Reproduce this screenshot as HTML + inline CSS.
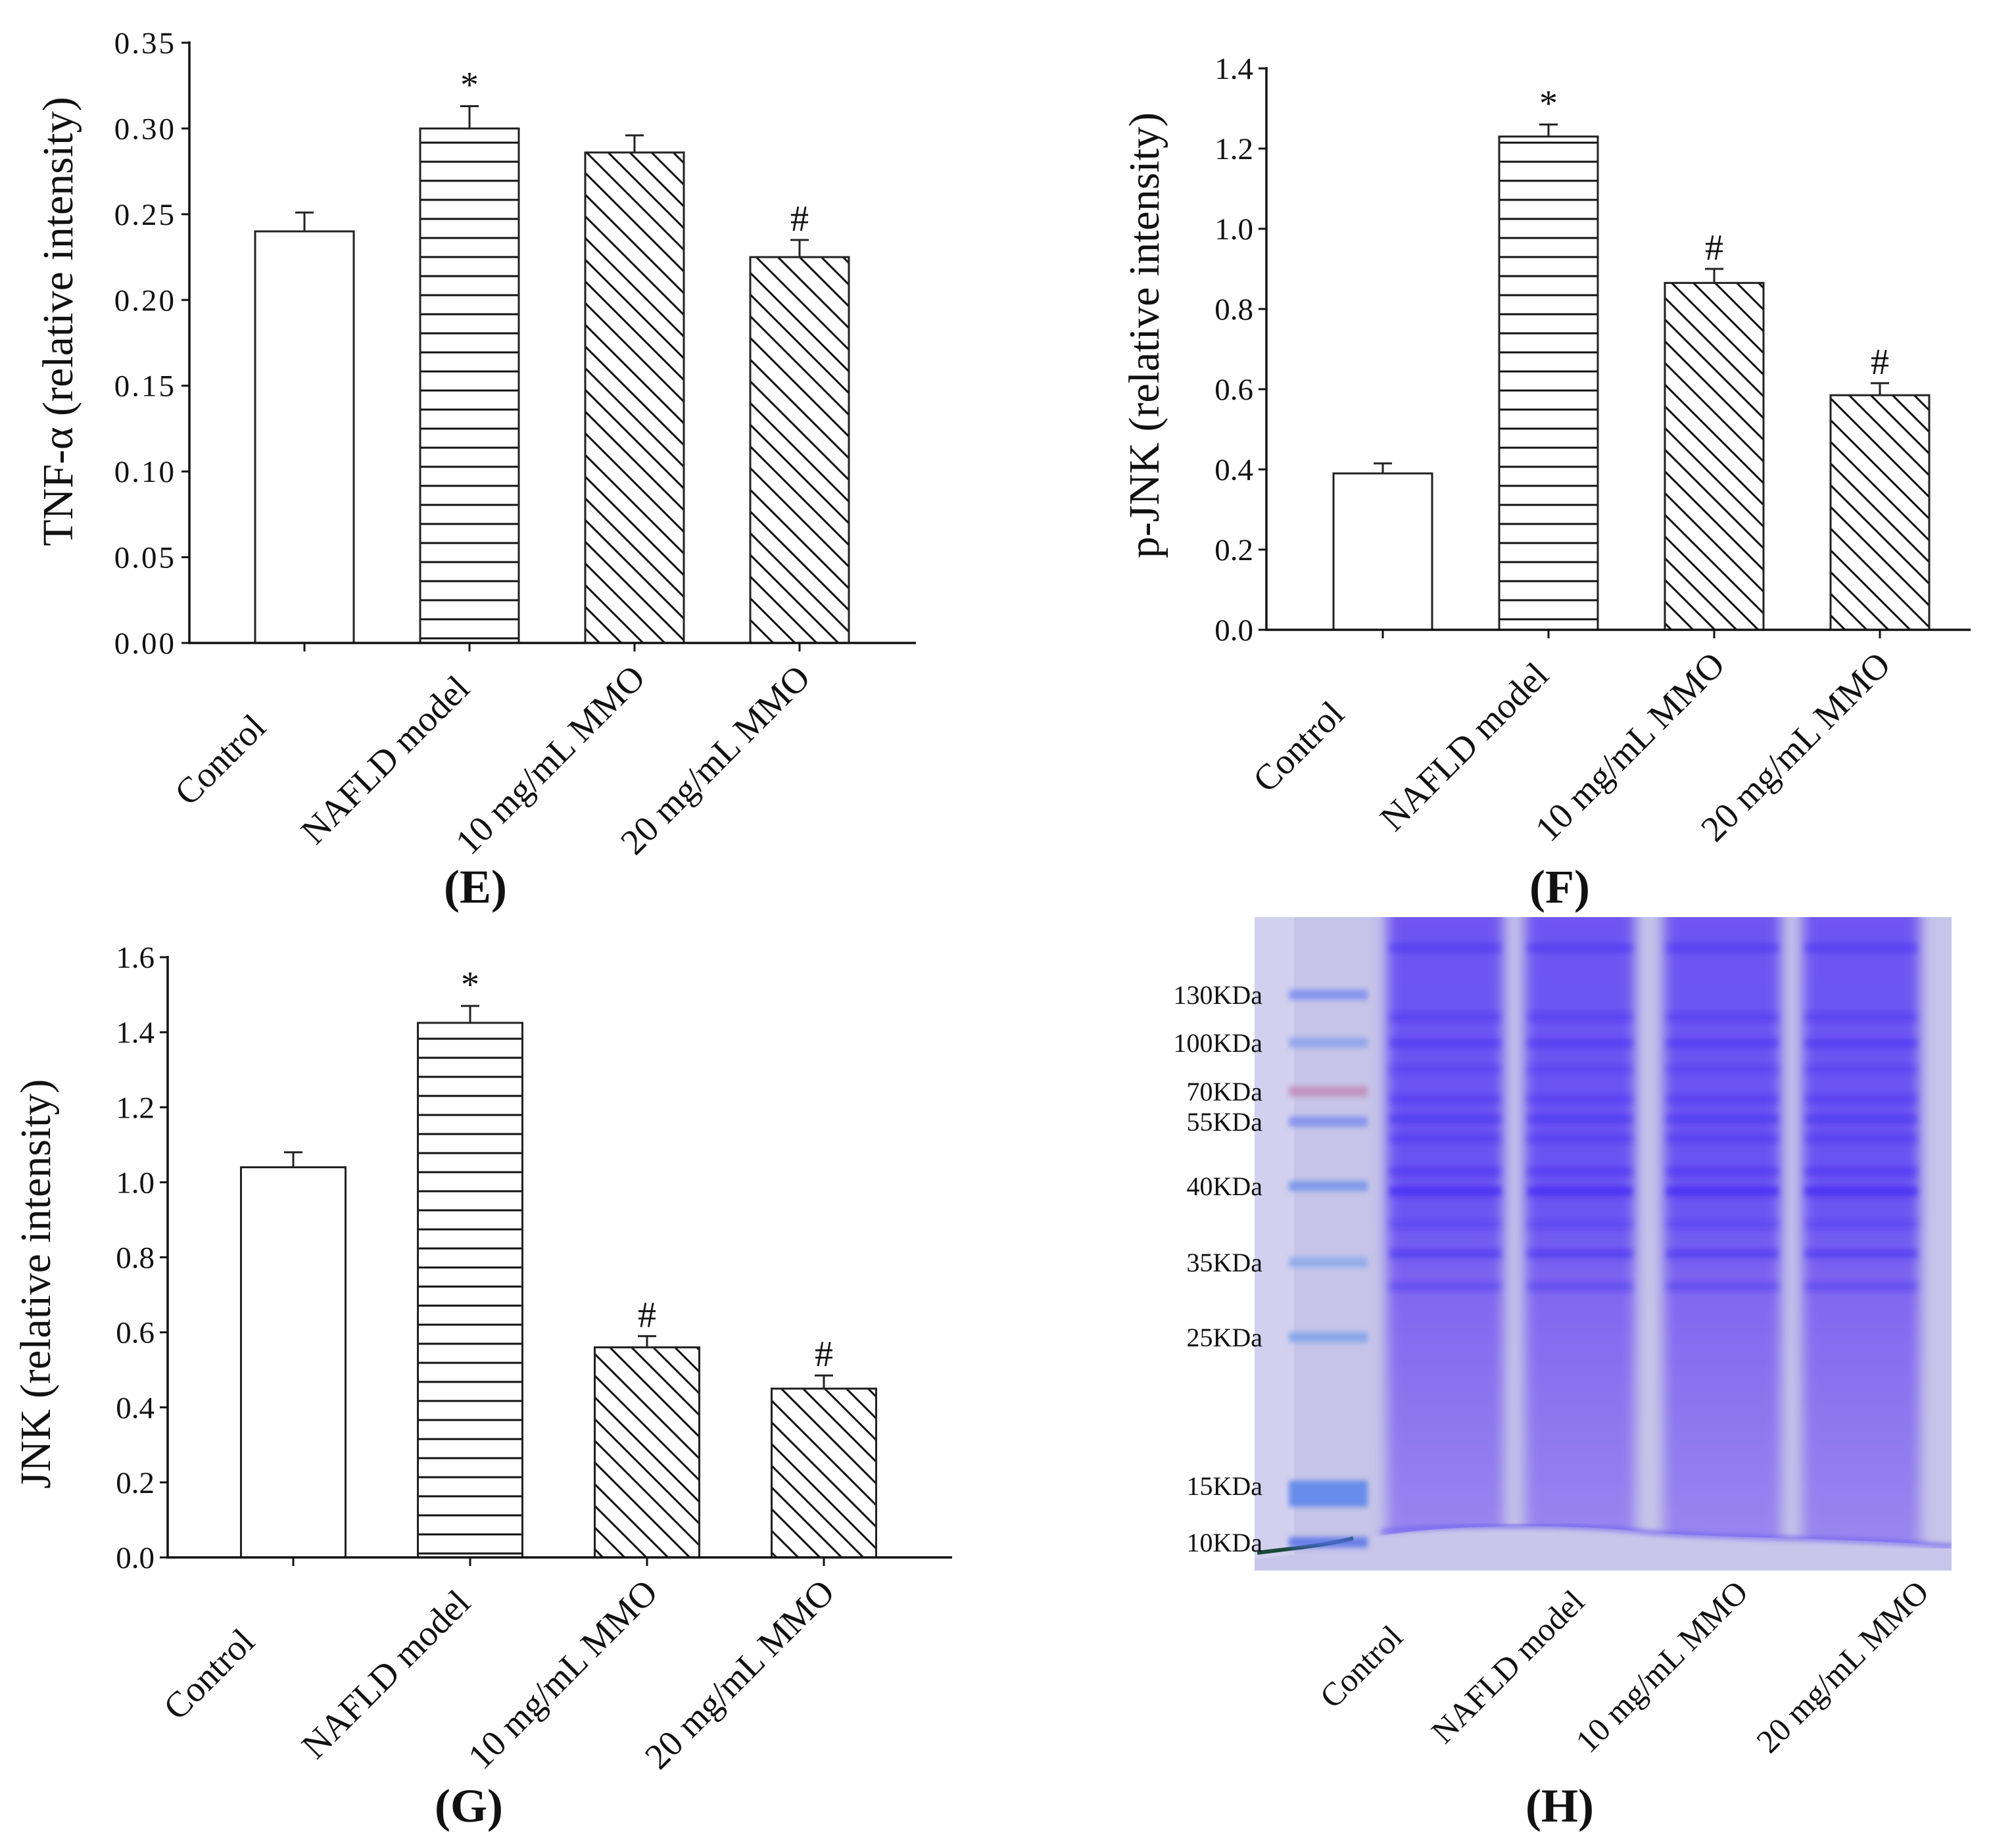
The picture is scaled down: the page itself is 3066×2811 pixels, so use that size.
<!DOCTYPE html>
<html><head><meta charset="utf-8">
<style>
html,body{margin:0;padding:0;background:#fff;}
svg{display:block;font-family:"Liberation Serif","Times New Roman",serif;}
</style></head>
<body>
<svg id="fig" width="3066" height="2811" viewBox="0 0 3066 2811" xmlns="http://www.w3.org/2000/svg" font-family="Liberation Serif, Times New Roman, serif">
<defs>
<pattern id="hatchH" patternUnits="userSpaceOnUse" width="40" height="29">
<line x1="0" y1="14" x2="40" y2="14" stroke="#111" stroke-width="3"/>
</pattern>
<pattern id="hatchD" patternUnits="userSpaceOnUse" width="33" height="33">
<path d="M0,0 L33,33 M-6,27 L6,39 M27,-6 L39,6" stroke="#111" stroke-width="3"/>
</pattern>
<filter id="blur4"><feGaussianBlur stdDeviation="4"/></filter>
<filter id="blur10"><feGaussianBlur stdDeviation="10"/></filter>
<clipPath id="gelClip"><rect x="1908" y="1395" width="1060" height="994"/></clipPath>
<linearGradient id="laneG" x1="0" y1="0" x2="0" y2="1">
<stop offset="0" stop-color="#6f55f2"/>
<stop offset="0.45" stop-color="#6a52f3"/>
<stop offset="0.6" stop-color="#8068f0"/>
<stop offset="1" stop-color="#9a88ef"/>
</linearGradient>
</defs>
<g id="charts"></g>
<g id="gel"></g>
</svg>
<script>
const NS="http://www.w3.org/2000/svg";
// ---- data ----
const categories=["Control","NAFLD model","10  mg/mL MMO","20 mg/mL MMO"];
const tnfValues=[0.240,0.300,0.286,0.225];
const tnfErrors=[0.011,0.013,0.010,0.010];
const tnfMarks=["","*","","#"];
const tnfTicks=["0.00","0.05","0.10","0.15","0.20","0.25","0.30","0.35"];
const pjnkValues=[0.39,1.23,0.865,0.585];
const pjnkErrors=[0.025,0.03,0.035,0.03];
const pjnkMarks=["","*","#","#"];
const pjnkTicks=["0.0","0.2","0.4","0.6","0.8","1.0","1.2","1.4"];
const jnkValues=[1.04,1.425,0.56,0.45];
const jnkErrors=[0.04,0.045,0.03,0.035];
const jnkMarks=["","*","#","#"];
const jnkTicks=["0.0","0.2","0.4","0.6","0.8","1.0","1.2","1.4","1.6"];
const markerLabels=["130KDa","100KDa","70KDa","55KDa","40KDa","35KDa","25KDa","15KDa","10KDa"];
const fills=["#fff","url(#hatchH)","url(#hatchD)","url(#hatchD)"];

function el(tag,attrs,parent,text){const e=document.createElementNS(NS,tag);for(const k in attrs)e.setAttribute(k,attrs[k]);if(text!==undefined)e.textContent=text;parent.appendChild(e);return e;}

function drawChart(root,name,ax,values,errors,marks,ticks,title,panel){
  const g=el("g",{},root);
  
  
  const ymax=parseFloat(ticks[ticks.length-1]);
  const y=v=>ax.y0-(v/ymax)*(ax.y0-ax.y1);
  const x=i=>ax.c0+i*ax.step;
  values.forEach((v,i)=>{
    const r=el("rect",{x:x(i)-ax.bw/2,y:y(v),width:ax.bw,height:ax.y0-y(v),fill:fills[i],stroke:"#222","stroke-width":3},g);
    
    
    const top=y(v+errors[i]);
    const eb=el("path",{d:`M${x(i)},${y(v)} V${top} M${x(i)-14},${top} H${x(i)+14}`,stroke:"#222","stroke-width":3,fill:"none"},g);
    
    
    if(marks[i]){
      const t=el("text",{x:x(i),y:top-14,"text-anchor":"middle","font-size":56,fill:"#111"},g,marks[i]);
      
      
    }
  });
  const axl=el("path",{d:`M${ax.x0},${ax.y1-2} V${ax.y0} H${ax.xe}`,stroke:"#111","stroke-width":3.5,fill:"none"},g);
  
  
  ticks.forEach(tk=>{
    const ty=y(parseFloat(tk));
    el("line",{x1:ax.x0-12,y1:ty,x2:ax.x0,y2:ty,stroke:"#111","stroke-width":3},g);
    const t=el("text",{x:ax.x0-20,y:ty+16,"text-anchor":"end","font-size":47,fill:"#111","letter-spacing":ax.ls},g,tk);
    
    
  });
  categories.forEach((c,i)=>{
    el("line",{x1:x(i),y1:ax.y0,x2:x(i),y2:ax.y0+13,stroke:"#111","stroke-width":3},g);
    const cx=x(i)-128, cy=ax.y0+178;
    const t=el("text",{x:cx,y:cy+18,"text-anchor":"middle","font-size":55,fill:"#111",transform:`rotate(-45 ${cx} ${cy})`},g,c);
    
    
  });
  const tt=el("text",{x:ax.tx,y:ax.ty,"text-anchor":"middle","font-size":66,fill:"#111",transform:`rotate(-90 ${ax.tx} ${ax.ty})`},g,title);
  
  
  const pl=el("text",{x:ax.px,y:ax.py+24,"text-anchor":"middle","font-size":72,"font-weight":"bold",fill:"#111"},g,panel);
  
  
}

const charts=document.getElementById("charts");
drawChart(charts,"tnf-alpha-chart",{x0:288,xe:1393,y0:978,y1:65,c0:463,step:251,bw:150,tx:110,ty:489,px:723,py:1349,ls:3},tnfValues,tnfErrors,tnfMarks,tnfTicks,"TNF-α (relative intensity)","(E)");
drawChart(charts,"p-jnk-chart",{x0:1926,xe:2997,y0:958,y1:104,c0:2103,step:252,bw:150,tx:1762,ty:510,px:2372,py:1349,ls:0},pjnkValues,pjnkErrors,pjnkMarks,pjnkTicks,"p-JNK (relative intensity)","(F)");
drawChart(charts,"jnk-chart",{x0:255,xe:1448,y0:2369,y1:1456,c0:446,step:269,bw:159,tx:76,ty:1953,px:713,py:2747,ls:0},jnkValues,jnkErrors,jnkMarks,jnkTicks,"JNK (relative intensity)","(G)");

// ---- gel (image panel) ----
const gelOuter=document.getElementById("gel");
const gel=el("g",{"clip-path":"url(#gelClip)"},gelOuter);
const GX=1908,GY=1395,GW=1060,GH=994;
el("rect",{x:GX,y:GY,width:GW,height:GH,fill:"#c6c4e8"},gel);
el("rect",{x:GX,y:GY,width:60,height:GH,fill:"#d2d0ee"},gel);
const lanes=[[2109,2287],[2319,2487],[2530,2709],[2741,2920]];
const lg=el("g",{filter:"url(#blur10)"},gel);
lanes.forEach((l,i)=>{
  const r=el("rect",{x:l[0],y:GY-20,width:l[1]-l[0],height:GH,fill:"url(#laneG)"},lg);
  
  
});
const bandY=[40,145,185,225,270,300,330,380,410,460,505,555];
const bandO=[0.4,0.3,0.4,0.25,0.3,0.4,0.3,0.35,0.6,0.25,0.45,0.3];
const bg=el("g",{filter:"url(#blur4)"},gel);
lanes.forEach(l=>{bandY.forEach((b,j)=>{el("rect",{x:l[0]+4,y:GY+b,width:l[1]-l[0]-8,height:14,fill:"#3a22f2",opacity:bandO[j]},bg);});});
el("path",{d:`M${GX},2372 C2000,2362 2060,2348 2100,2336 C2200,2318 2400,2318 2500,2330 C2600,2340 2800,2338 2970,2352 L2970,${GY+GH} L${GX},${GY+GH} Z`,fill:"#c8c6ea"},gel);
el("path",{d:`M2100,2330 C2200,2318 2400,2318 2500,2330 C2600,2340 2800,2338 2970,2352`,stroke:"#6e5ef0","stroke-width":5,fill:"none",filter:"url(#blur4)"},gel);
el("path",{d:`M1912,2362 C1960,2356 2020,2350 2058,2340`,stroke:"#1a4a3a","stroke-width":6,fill:"none"},gel);
const mY=[1513,1586,1660,1706,1804,1920,2034,2260,2346];
const mC=["#7b8cf0","#8aa0ec","#c08ab8","#7b8cf0","#6f90ea","#8aa8ec","#7aa0ea","#4f7eea","#4f6ee8"];
const mg=el("g",{filter:"url(#blur4)"},gel);
mY.forEach((yy,i)=>{el("rect",{x:1960,y:yy-8,width:120,height:(i==7?40:16),fill:mC[i],opacity:0.8},mg);});
markerLabels.forEach((m,i)=>{
  const t=el("text",{x:1920,y:mY[i]+14,"text-anchor":"end","font-size":40,fill:"#111"},gelOuter,m);
  
  
});
const gelLabelX=[2070,2293,2527,2802];
categories.forEach((c,i)=>{
  const cx=gelLabelX[i],cy=2535;
  const t=el("text",{x:cx,y:cy+17,"text-anchor":"middle","font-size":50,fill:"#111",transform:`rotate(-45 ${cx} ${cy})`},gelOuter,c);
  
  
});
const hl=el("text",{x:2372,y:2771,"text-anchor":"middle","font-size":72,"font-weight":"bold",fill:"#111"},gelOuter,"(H)");


</script>
</body></html>
